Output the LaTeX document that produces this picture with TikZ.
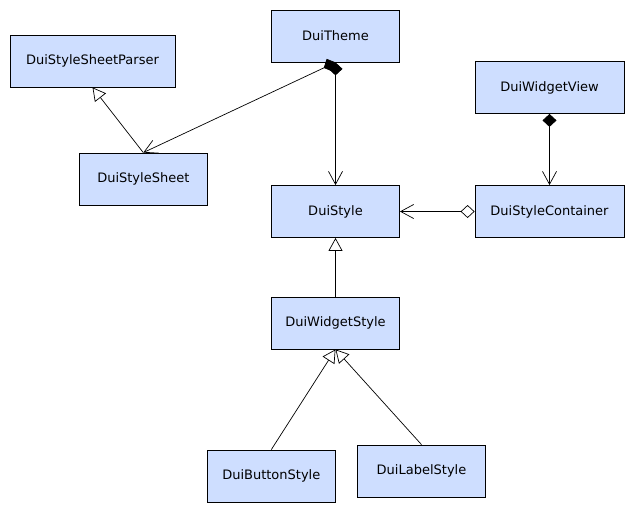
\documentclass[tikz,border=0pt]{standalone}
\usepackage{fontspec}
\setmainfont{DejaVu Sans}
\usetikzlibrary{arrows.meta}
\definecolor{boxblue}{RGB}{206,222,255}

\begin{document}
\begin{tikzpicture}[x=1pt,y=-1pt,line width=0.8pt,
        umlbox/.style={draw,fill=boxblue,minimum height=52pt,inner sep=0pt,font=\fontsize{13}{15}\selectfont},
        inherit/.style={line width=0.7pt,-{Triangle[open,length=13pt,width=14pt]}},
        comp/.style={line width=0.7pt,{Diamond[length=13pt,width=14pt]}-{Straight Barb[length=13pt,width=14pt]}},
        aggr/.style={line width=0.7pt,{Diamond[open,length=14pt,width=13pt]}-{Straight Barb[length=13pt,width=14pt]}}]
        \useasboundingbox (0,0) rectangle (634,512);

        % Draw the classes
        \node[umlbox,minimum width=165pt] (parser) at (92.5,61) {DuiStyleSheetParser};
        \node[umlbox,minimum width=128pt] (theme) at (335.5,36) {DuiTheme};
        \node[umlbox,minimum width=128pt] (sheet) at (143.3,179) {DuiStyleSheet};
        \node[umlbox,minimum width=128pt] (style) at (335.5,211.5) {DuiStyle};
        \node[umlbox,minimum width=149pt] (view) at (549.5,87.5) {DuiWidgetView};
        \node[umlbox,minimum width=149pt] (container) at (549.5,211.5) {DuiStyleContainer};
        \node[umlbox,minimum width=128pt] (widgetstyle) at (335.5,323) {DuiWidgetStyle};
        \node[umlbox,minimum width=128pt] (button) at (271.3,476) {DuiButtonStyle};
        \node[umlbox,minimum width=128pt] (label) at (421.5,471) {DuiLabelStyle};

        % Draw the relations
        \draw[inherit] (sheet.north) -- (parser.south);
        \draw[comp] (theme.south) -- (sheet.north);
        \draw[comp] (theme.south) -- (style.north);
        \draw[comp] (view.south) -- (container.north);
        \draw[aggr] (container.west) -- (style.east);
        \draw[inherit] (widgetstyle.north) -- (style.south);
        \draw[inherit] (button.north) -- (widgetstyle.south);
        \draw[inherit] (label.north) -- (widgetstyle.south);
    \end{tikzpicture}
\end{document}
